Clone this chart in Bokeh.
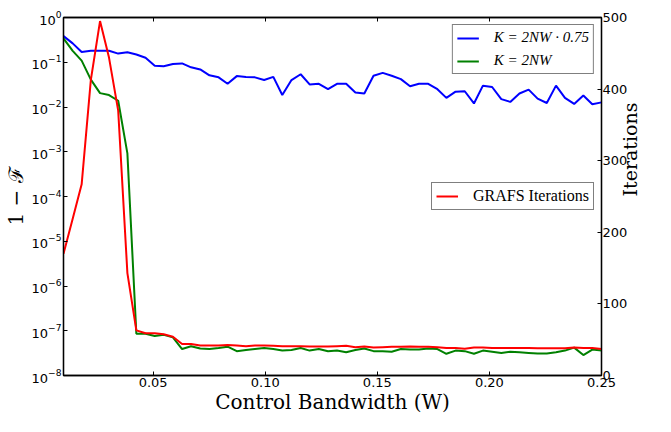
import math
from bokeh.plotting import figure
from bokeh.models import (Range1d, LinearAxis, LinearScale, FixedTicker, NumeralTickFormatter,
                          Legend, LegendItem)
from bokeh.embed import file_html
from bokeh.resources import INLINE

# ---- data ----
bandwidth = [0.0100, 0.0141, 0.0181, 0.0222, 0.0263, 0.0303, 0.0344, 0.0385, 0.0425, 0.0466,
             0.0507, 0.0547, 0.0588, 0.0629, 0.0669, 0.0710, 0.0751, 0.0792, 0.0832, 0.0873,
             0.0914, 0.0954, 0.0995, 0.1036, 0.1076, 0.1117, 0.1158, 0.1198, 0.1239, 0.1280,
             0.1320, 0.1361, 0.1402, 0.1442, 0.1483, 0.1524, 0.1564, 0.1605, 0.1646, 0.1686,
             0.1727, 0.1768, 0.1808, 0.1849, 0.1890, 0.1931, 0.1971, 0.2012, 0.2053, 0.2093,
             0.2134, 0.2175, 0.2215, 0.2256, 0.2297, 0.2337, 0.2378, 0.2419, 0.2459, 0.2500]

infidelity_k075 = [0.386, 0.264, 0.170, 0.181, 0.181, 0.181, 0.156, 0.167, 0.149, 0.126,
                   0.084, 0.081, 0.091, 0.094, 0.077, 0.069, 0.051, 0.046, 0.033, 0.049,
                   0.047, 0.046, 0.040, 0.047, 0.0185, 0.040, 0.054, 0.032, 0.033, 0.025,
                   0.033, 0.033, 0.021, 0.020, 0.050, 0.058, 0.050, 0.042, 0.029, 0.033,
                   0.033, 0.025, 0.016, 0.022, 0.0225, 0.012, 0.030, 0.028, 0.015, 0.013,
                   0.020, 0.0245, 0.0154, 0.0123, 0.030, 0.016, 0.0117, 0.018, 0.0115, 0.0127]

infidelity_k = [0.34, 0.18, 0.109, 0.041, 0.0204, 0.0185, 0.0138, 9.2e-4, 8.6e-8, 8.6e-8,
                7.6e-8, 8.1e-8, 7.1e-8, 3.9e-8, 4.5e-8, 4.0e-8, 3.9e-8, 4.1e-8, 4.4e-8, 3.5e-8,
                3.7e-8, 3.9e-8, 4.1e-8, 3.9e-8, 3.6e-8, 3.7e-8, 4.1e-8, 3.6e-8, 3.9e-8, 3.5e-8,
                3.6e-8, 3.3e-8, 3.7e-8, 4.0e-8, 3.5e-8, 3.5e-8, 3.4e-8, 3.9e-8, 3.8e-8, 3.8e-8,
                4.0e-8, 3.9e-8, 3.06e-8, 3.6e-8, 3.5e-8, 3.06e-8, 3.6e-8, 3.4e-8, 3.2e-8, 3.4e-8,
                3.3e-8, 3.2e-8, 3.1e-8, 3.1e-8, 3.3e-8, 3.6e-8, 4.2e-8, 2.86e-8, 3.8e-8, 3.6e-8]

grafs_iterations = [170, 219, 267, 413, 495, 444, 370, 143, 63, 59,
                    59, 57.5, 54, 44, 44, 42, 42, 42, 42.5, 42,
                    41, 42, 42, 41.5, 41, 41, 41, 40.5, 40.5, 40.5,
                    41, 41.5, 39.5, 40.5, 39, 39.5, 40, 40, 40.5, 40,
                    40, 39.5, 38.5, 38.5, 37.5, 39, 39, 38.5, 38.5, 38.5,
                    38.5, 38.5, 38, 38, 38, 38, 39, 38.5, 38.5, 37]

x_ticks = [0.05, 0.10, 0.15, 0.20, 0.25]
y_ticks = [1e-8, 1e-7, 1e-6, 1e-5, 1e-4, 1e-3, 1e-2, 1e-1, 1e0]
iter_ticks = [0, 100, 200, 300, 400, 500]

label_blue = "K = 2NW \u00b7 0.75"
label_green = "K = 2NW"
label_red = "GRAFS Iterations"
x_title = "Control Bandwidth (W)"
y_title = "1 \u2212 \u2131"
y2_title = "Iterations"

TICK_FONT = "DejaVu Sans"
SERIF = "DejaVu Serif"

p = figure(width=655, height=416,
           x_range=Range1d(0.01, 0.25), y_range=Range1d(1e-8, 1),
           y_axis_type="log", output_backend="svg", toolbar_location=None,
           min_border_left=50, min_border_right=0, min_border_top=17, min_border_bottom=0)
p.extra_y_ranges = {"iter": Range1d(0, 500)}
p.extra_y_scales = {"iter": LinearScale()}

p.xgrid.visible = False
p.ygrid.visible = False
p.background_fill_color = "white"
p.border_fill_color = "white"
p.outline_line_color = "black"
p.outline_line_width = 1.3


def style_axis(ax):
    ax.major_tick_in = 4
    ax.major_tick_out = 0
    ax.minor_tick_in = 0
    ax.minor_tick_out = 0
    ax.axis_line_color = "black"
    ax.axis_line_width = 1.3
    ax.major_tick_line_color = "black"
    ax.major_tick_line_width = 1
    ax.major_label_text_font = TICK_FONT
    ax.major_label_text_font_size = "13px"
    ax.major_label_text_color = "black"
    ax.major_label_standoff = 2
    ax.axis_label_text_font = SERIF
    ax.axis_label_text_font_style = "normal"
    ax.axis_label_text_color = "black"
    ax.axis_label_standoff = 1


xa = p.xaxis[0]
xa.ticker = FixedTicker(ticks=x_ticks)
xa.formatter = NumeralTickFormatter(format="0.00")
style_axis(xa)
xa.axis_label = x_title
xa.axis_label_text_font_size = "20px"
xa.axis_label_standoff = 0

ya = p.yaxis[0]
ya.ticker = FixedTicker(ticks=y_ticks)
style_axis(ya)
ya.axis_label = y_title
ya.axis_label_text_font_size = "20px"

top = LinearAxis(ticker=FixedTicker(ticks=x_ticks))
style_axis(top)
top.major_label_text_color = None
top.major_label_standoff = 0
p.add_layout(top, "above")

right = LinearAxis(y_range_name="iter", ticker=FixedTicker(ticks=iter_ticks))
style_axis(right)
right.major_label_standoff = 1
right.axis_label = y2_title
right.axis_label_text_font_size = "19px"
right.axis_label_standoff = 0
right.axis_label_orientation = math.pi / 2
p.add_layout(right, "right")

r_blue = p.line(bandwidth, infidelity_k075, line_color="#0000ff", line_width=2)
r_green = p.line(bandwidth, infidelity_k, line_color="#008000", line_width=2)
r_red = p.line(bandwidth, grafs_iterations, line_color="#ff0000", line_width=2,
               y_range_name="iter")

leg1 = Legend(items=[LegendItem(label=label_blue, renderers=[r_blue]),
                     LegendItem(label=label_green, renderers=[r_green])],
              location="top_right")
leg2 = Legend(items=[LegendItem(label=label_red, renderers=[r_red])],
              location="center_right")
for lg, fs, style in ((leg1, "15px", "italic"), (leg2, "16px", "normal")):
    lg.label_text_font = "Liberation Serif"
    lg.label_text_font_size = fs
    lg.label_text_font_style = style
    lg.label_text_color = "black"
    lg.border_line_color = "black"
    lg.border_line_width = 1
    lg.background_fill_color = "white"
    lg.background_fill_alpha = 1
    lg.glyph_width = 22
    lg.glyph_height = 16
    lg.label_height = 16
    lg.label_standoff = 15
    lg.padding = 4
    lg.spacing = 6
    lg.margin = 7
    p.add_layout(lg)

open("out.html", "w").write(file_html(p, INLINE))
